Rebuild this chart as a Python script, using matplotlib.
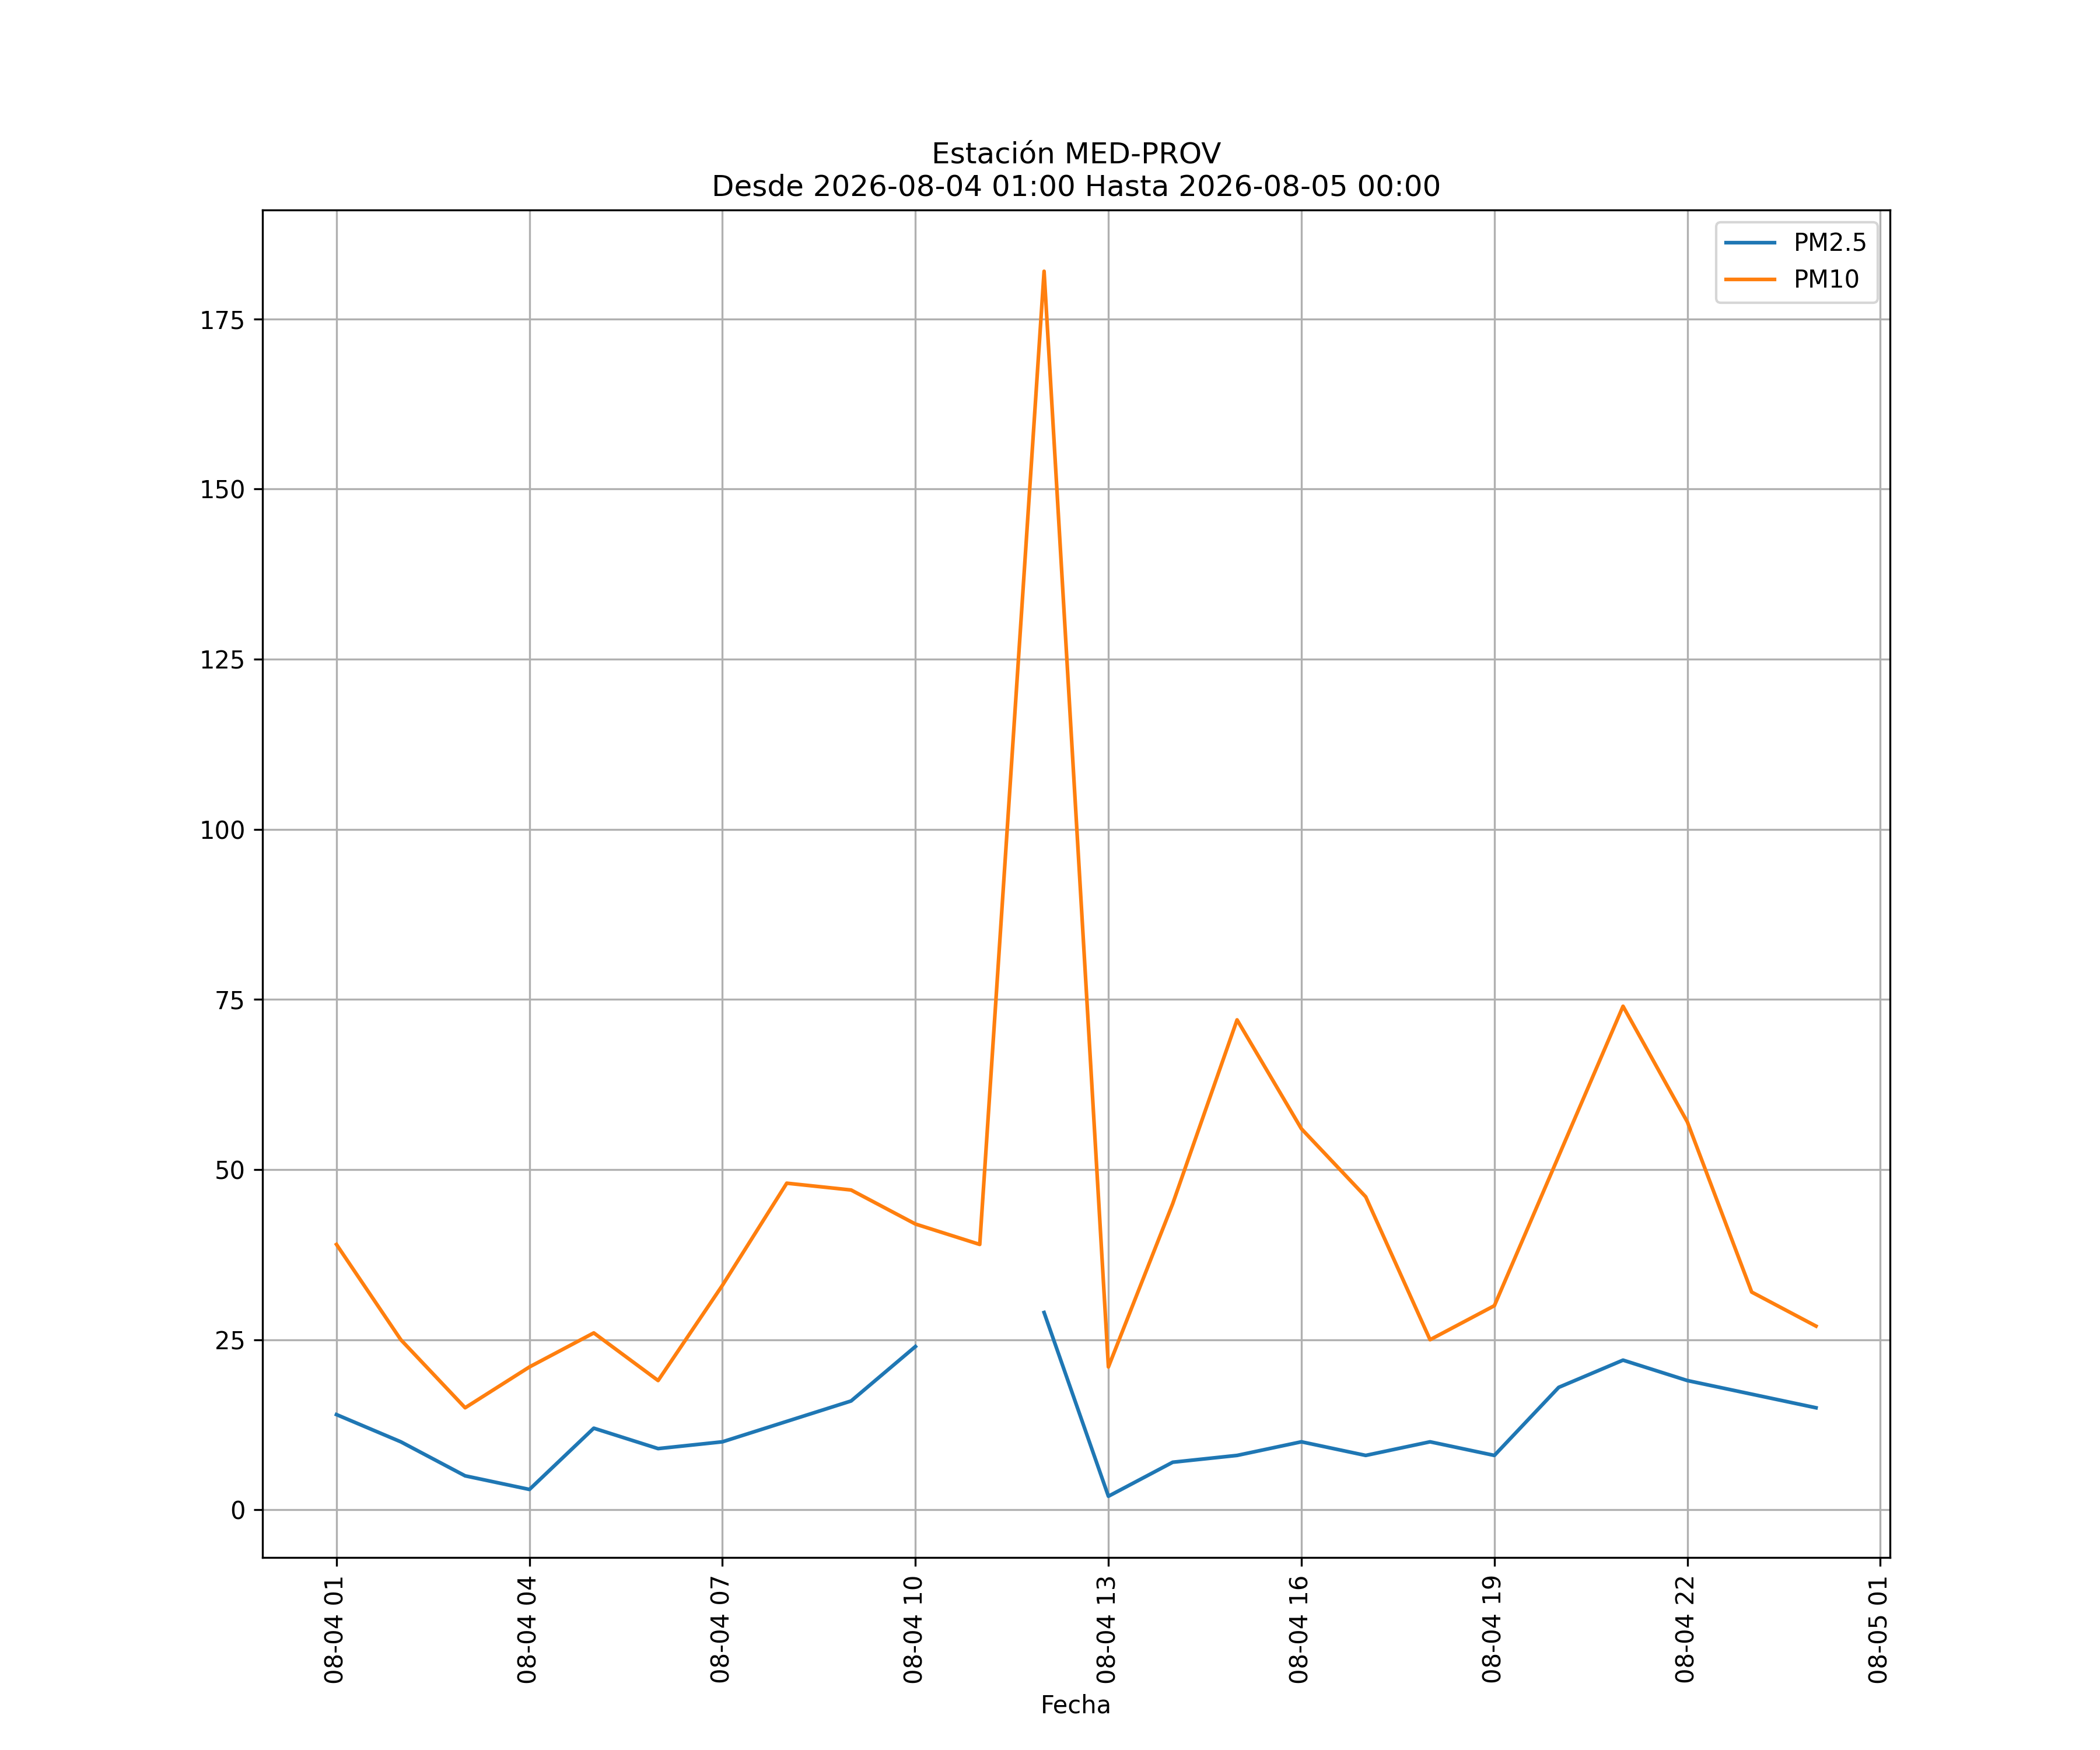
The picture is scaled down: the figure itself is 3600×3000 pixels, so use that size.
import numpy as np
import pandas as pd
import matplotlib
matplotlib.use("Agg")
import matplotlib.pyplot as plt
import matplotlib.dates as mdates

times = pd.date_range("2026-08-04 01:00", "2026-08-05 00:00", freq="h")
pm25 = [14, 10, 5, 3, 12, 9, 10, 13, 16, 24, np.nan, 29,
        2, 7, 8, 10, 8, 10, 8, 18, 22, 19, 17, 15]
pm10 = [39, 25, 15, 21, 26, 19, 33, 48, 47, 42, 39, 182,
        21, 45, 72, 56, 46, 25, 30, 52, 74, 57, 32, 27]

fig, ax = plt.subplots(figsize=(12, 10), dpi=300)
ax.plot(times, pm25, label="PM2.5")
ax.plot(times, pm10, label="PM10")
ax.xaxis.set_major_locator(mdates.HourLocator(byhour=range(1, 24, 3)))
ax.xaxis.set_major_formatter(mdates.DateFormatter("%m-%d %H"))
plt.setp(ax.get_xticklabels(), rotation=90)
ax.set_xlabel("Fecha")
ax.set_title("Estación MED-PROV\nDesde 2026-08-04 01:00 Hasta 2026-08-05 00:00")
ax.grid(True)
ax.legend(loc="upper right")
fig.savefig("out.png", dpi=300)
